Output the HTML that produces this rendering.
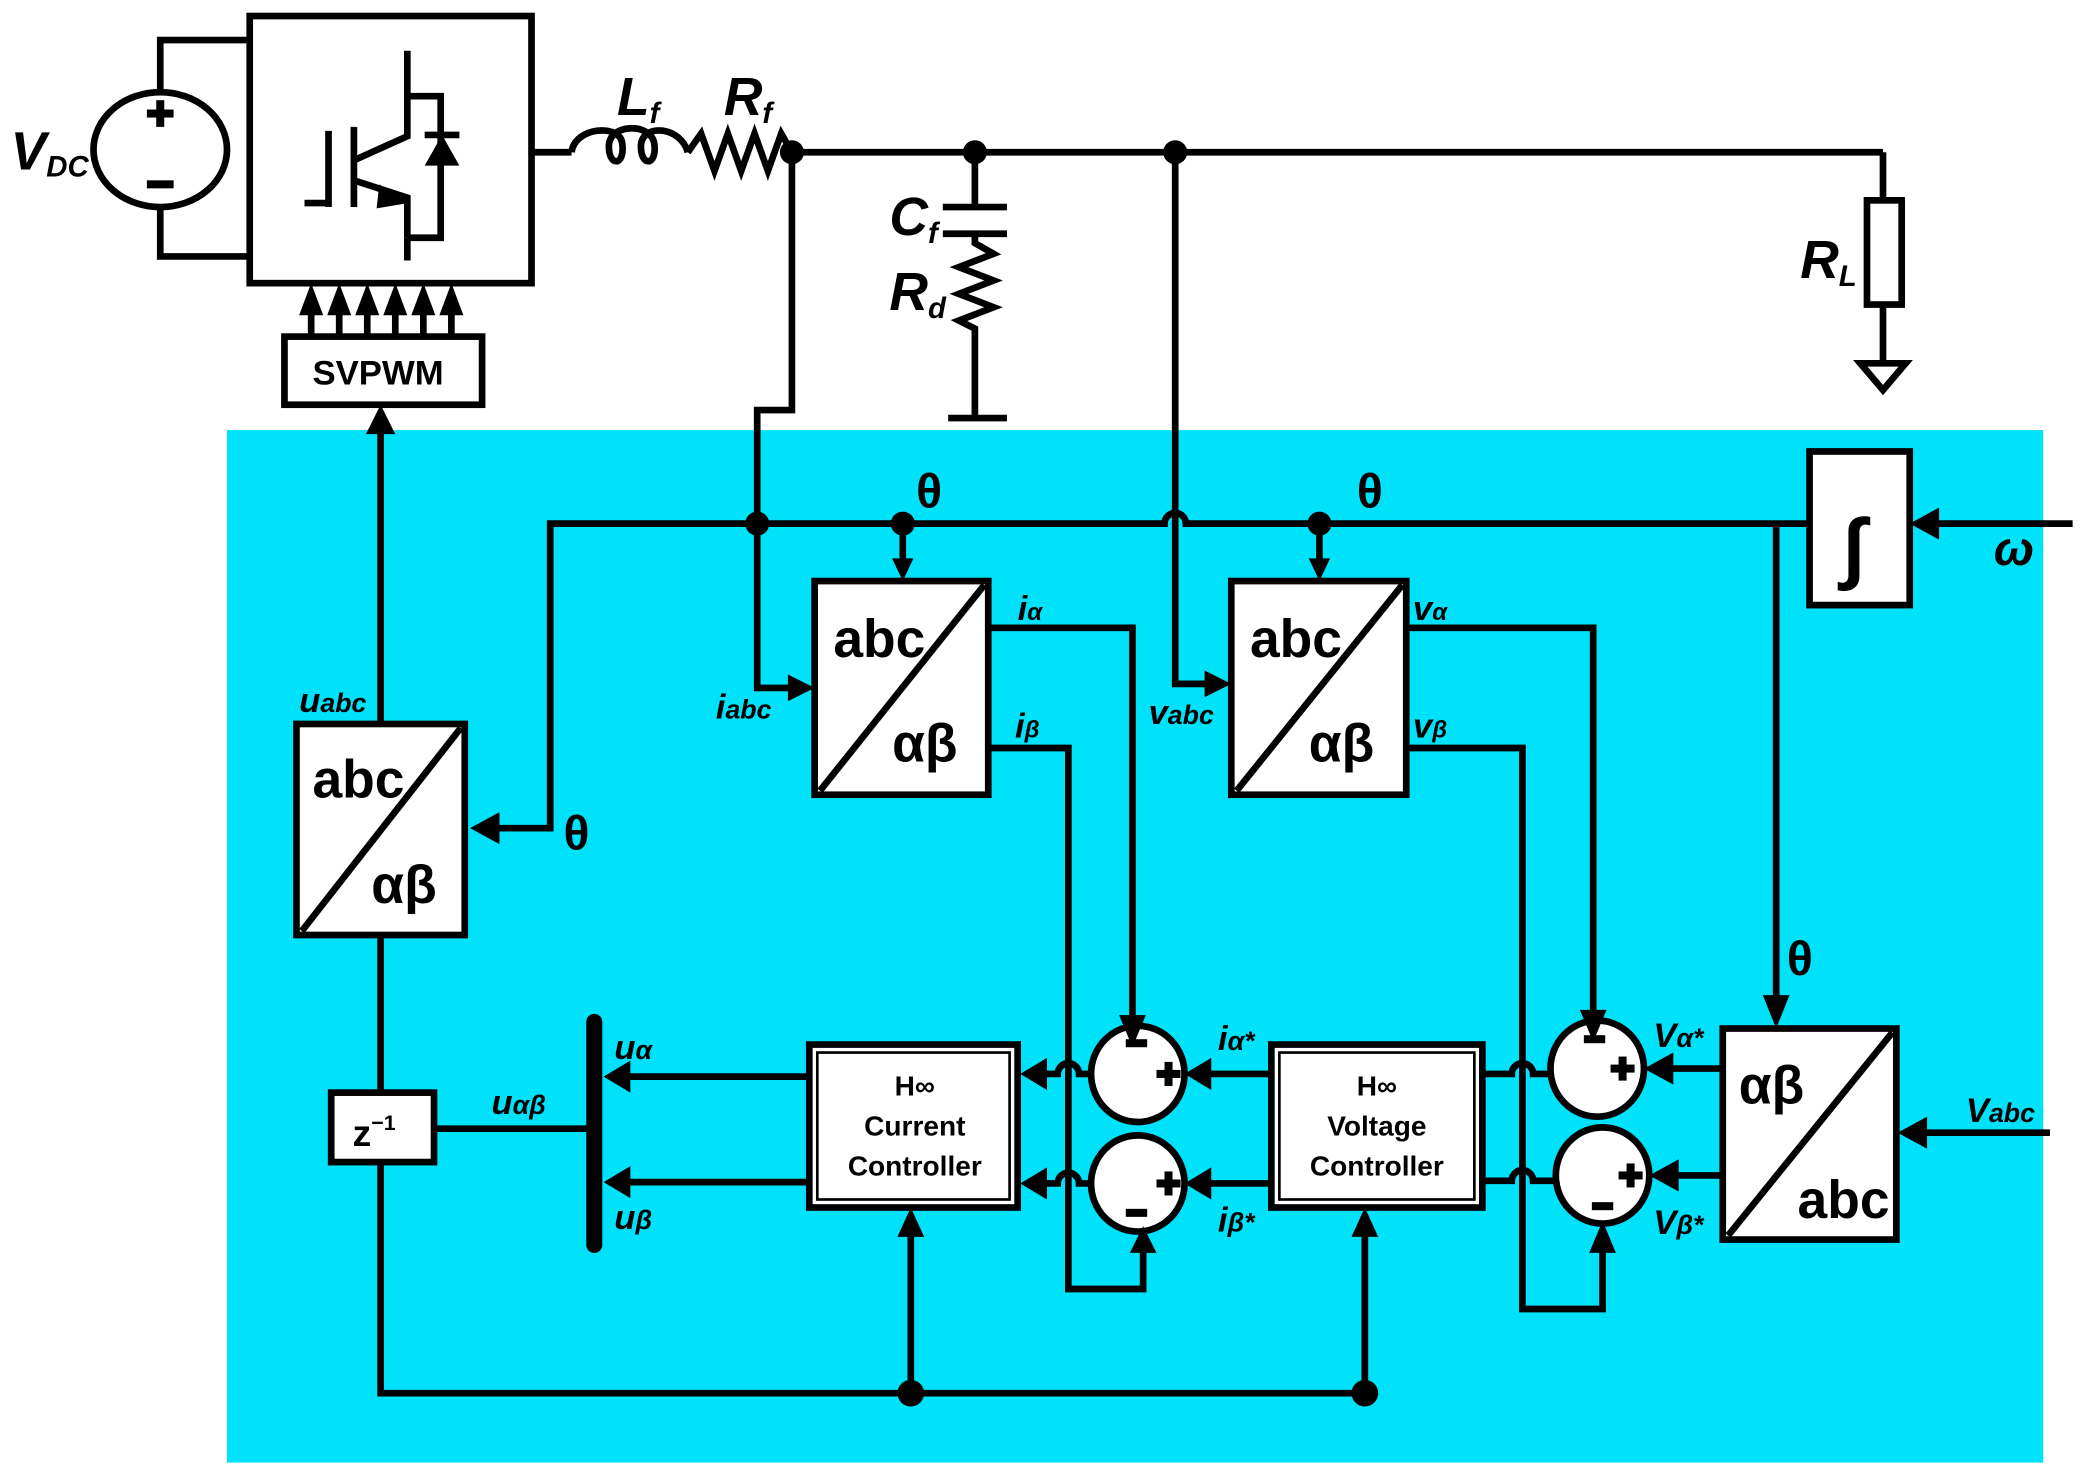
<!DOCTYPE html>
<html><head><meta charset="utf-8"><style>
html,body{margin:0;padding:0;background:#fff;}
svg{display:block;}
text{font-family:"Liberation Sans","DejaVu Sans",sans-serif;font-weight:bold;fill:#000;}
.i{font-style:italic;}
</style></head><body>
<svg width="2094" height="1484" viewBox="0 0 1568 1111" preserveAspectRatio="none" xmlns="http://www.w3.org/2000/svg">
<rect x="170" y="322" width="1360" height="773" fill="#00e1fa"/>
<g fill="none" stroke="#000" stroke-width="5" stroke-linejoin="miter">
<ellipse cx="120" cy="112" rx="50" ry="43"/>
<polyline points="120,69 120,30 187,30"/>
<polyline points="120,155 120,192 187,192"/>
<rect x="187" y="12" width="211" height="200" fill="#fff"/>
<line x1="228" y1="152" x2="245" y2="152"/>
<line x1="246" y1="98" x2="246" y2="155"/>
<line x1="265" y1="95" x2="265" y2="155"/>
<polyline points="265,120 305,102 305,38"/>
<polyline points="305,72 330,72 330,178 305,178"/>
<line x1="305" y1="178" x2="305" y2="195"/>
<polyline points="265,135 305,148 305,178"/>
<line x1="318" y1="101" x2="344" y2="101"/>
<line x1="398" y1="114" x2="428" y2="114"/>
<path d="M428,114 C430,95 465,92 466,108 C468,125 455,125 456,108 C458,92 488,92 490,108 C492,125 479,125 480,108 C482,92 510,95 515,114"/>
<polyline points="515,114 525,100 535,128 545,100 555,128 565,100 575,128 585,100 593,114"/>
<line x1="593" y1="114" x2="1410" y2="114"/>
<line x1="1410" y1="114" x2="1410" y2="150"/>
<rect x="1398" y="150" width="26" height="78" fill="#fff"/>
<line x1="1410" y1="228" x2="1410" y2="272"/>
<polygon points="1393,272 1427,272 1410,292"/>
<line x1="730" y1="114" x2="730" y2="155"/>
<line x1="706" y1="155" x2="754" y2="155"/>
<line x1="706" y1="175" x2="754" y2="175"/>
<polyline points="730,175 730,182 744,190 718,200 744,210 718,220 744,230 718,240 730,246 730,313"/>
<line x1="710" y1="313" x2="754" y2="313"/>
<rect x="213" y="252" width="148" height="51" fill="#fff"/>
<line x1="233" y1="252" x2="233" y2="225"/><line x1="254" y1="252" x2="254" y2="225"/>
<line x1="275" y1="252" x2="275" y2="225"/><line x1="296" y1="252" x2="296" y2="225"/>
<line x1="317" y1="252" x2="317" y2="225"/><line x1="338" y1="252" x2="338" y2="225"/>
<polyline points="593,114 593,307 567,307 567,515 598,515"/>
<path d="M880,114 L880,512 L910,512"/>
<path d="M1355,392 L888,392 A8,8 0 0 0 872,392 L412,392 L412,620 L368,620"/>
<line x1="676" y1="392" x2="676" y2="420"/>
<line x1="988" y1="392" x2="988" y2="420"/>
<polyline points="1330,392 1330,752"/>
<rect x="1355" y="338" width="75" height="115" fill="#fff"/>
<line x1="1552" y1="392" x2="1446" y2="392"/>
<rect x="610" y="435" width="130" height="160" fill="#fff"/>
<line x1="614" y1="592" x2="737" y2="438"/>
<rect x="922" y="435" width="131" height="160" fill="#fff"/>
<line x1="926" y1="592" x2="1050" y2="438"/>
<rect x="222" y="542" width="126" height="158" fill="#fff"/>
<line x1="226" y1="697" x2="345" y2="545"/>
<rect x="1290" y="770" width="130" height="158" fill="#fff"/>
<line x1="1294" y1="925" x2="1417" y2="773"/>
<polyline points="740,470 848,470 848,766"/>
<polyline points="740,560 800,560 800,965 856,965 856,930"/>
<polyline points="1053,470 1193,470 1193,762"/>
<polyline points="1053,560 1140,560 1140,980 1200,980 1200,930"/>
<ellipse cx="852" cy="804" rx="35" ry="36" fill="#fff"/>
<ellipse cx="852" cy="886" rx="35" ry="36" fill="#fff"/>
<ellipse cx="1196" cy="800" rx="35" ry="36" fill="#fff"/>
<ellipse cx="1200" cy="880" rx="35" ry="36" fill="#fff"/>
<rect x="606" y="782" width="156" height="122" fill="#fff"/>
<rect x="612" y="788" width="144" height="110" stroke-width="2"/>
<rect x="952" y="782" width="158" height="122" fill="#fff"/>
<rect x="958" y="788" width="146" height="110" stroke-width="2"/>
<path d="M817,804 L808,804 A8,8 0 0 0 792,804 L778,804"/>
<path d="M817,886 L808,886 A8,8 0 0 0 792,886 L778,886"/>
<line x1="952" y1="804" x2="902" y2="804"/>
<line x1="952" y1="886" x2="902" y2="886"/>
<path d="M1110,804 L1132,804 A8,8 0 0 1 1148,804 L1161,804"/>
<path d="M1110,884 L1132,884 A8,8 0 0 1 1148,884 L1165,884"/>
<line x1="1290" y1="800" x2="1246" y2="800"/>
<line x1="1290" y1="880" x2="1250" y2="880"/>
<line x1="1535" y1="848" x2="1436" y2="848"/>
<line x1="606" y1="806" x2="462" y2="806"/>
<line x1="606" y1="885" x2="462" y2="885"/>
<line x1="445" y1="765" x2="445" y2="932" stroke-width="12" stroke-linecap="round"/>
<rect x="248" y="818" width="77" height="52" fill="#fff"/>
<line x1="325" y1="845" x2="445" y2="845"/>
<line x1="285" y1="542" x2="285" y2="320"/>
<line x1="285" y1="700" x2="285" y2="818"/>
<polyline points="285,870 285,1043 1022,1043"/>
<line x1="682" y1="1043" x2="682" y2="920"/>
<line x1="1022" y1="1043" x2="1022" y2="920"/>
</g>
<g fill="#000">
<circle cx="593" cy="114" r="9"/><circle cx="730" cy="114" r="9"/><circle cx="880" cy="114" r="9"/>
<circle cx="567" cy="392" r="9"/><circle cx="676" cy="392" r="9"/><circle cx="988" cy="392" r="9"/>
<circle cx="682" cy="1043" r="10"/><circle cx="1022" cy="1043" r="10"/>
<polygon points="284,138 306,152 282,156"/>
<polygon points="318,124 344,124 331,101"/>
<polygon points="224,236 233,212 242,236"/><polygon points="245,236 254,212 263,236"/>
<polygon points="266,236 275,212 284,236"/><polygon points="287,236 296,212 305,236"/>
<polygon points="308,236 317,212 326,236"/><polygon points="329,236 338,212 347,236"/>
<polygon points="274,325 285,303 296,325"/>
<polygon points="590,505 610,515 590,525"/>
<polygon points="902,502 922,512 902,522"/>
<polygon points="668,418 676,435 684,418"/>
<polygon points="980,418 988,435 996,418"/>
<polygon points="374,608 352,620 374,632"/>
<polygon points="1452,380 1430,392 1452,404"/>
<polygon points="1320,745 1330,770 1340,745"/>
<polygon points="838,760 848,784 858,760"/>
<polygon points="1183,756 1193,780 1203,756"/>
<polygon points="846,938 856,918 866,938"/>
<polygon points="1190,938 1200,914 1210,938"/>
<polygon points="784,792 764,804 784,816"/>
<polygon points="784,874 764,886 784,898"/>
<polygon points="907,792 887,804 907,816"/>
<polygon points="907,874 887,886 907,898"/>
<polygon points="1253,788 1231,800 1253,812"/>
<polygon points="1257,868 1235,880 1257,892"/>
<polygon points="1443,836 1421,848 1443,860"/>
<polygon points="472,794 452,806 472,818"/>
<polygon points="472,873 452,885 472,897"/>
<polygon points="672,926 682,904 692,926"/>
<polygon points="1012,926 1022,904 1032,926"/>
<rect x="843" y="778" width="16" height="6"/><rect x="866" y="801" width="18" height="6"/><rect x="872" y="795" width="6" height="18"/>
<rect x="843" y="905" width="16" height="6"/><rect x="866" y="883" width="18" height="6"/><rect x="872" y="877" width="6" height="18"/>
<rect x="1186" y="775" width="16" height="6"/><rect x="1206" y="797" width="18" height="6"/><rect x="1212" y="791" width="6" height="18"/>
<rect x="1192" y="900" width="16" height="6"/><rect x="1212" y="877" width="18" height="6"/><rect x="1218" y="871" width="6" height="18"/>
<rect x="110" y="82" width="20" height="6"/><rect x="117" y="75" width="6" height="20"/><rect x="110" y="135" width="20" height="6"/>
</g>
<g font-size="40">
<text x="8" y="127" class="i">V<tspan font-size="22" dy="5">DC</tspan></text>
<text x="462" y="86" class="i">L<tspan font-size="22" dy="6">f</tspan></text>
<text x="542" y="86" class="i">R<tspan font-size="22" dy="6">f</tspan></text>
<text x="666" y="176" class="i">C<tspan font-size="22" dy="6">f</tspan></text>
<text x="666" y="232" class="i">R<tspan font-size="22" dy="6">d</tspan></text>
<text x="1348" y="208" class="i">R<tspan font-size="22" dy="6">L</tspan></text>
</g>
<text x="234" y="288" font-size="26">SVPWM</text>
<g font-size="36">
<text x="686" y="380">θ</text><text x="1016" y="380">θ</text>
<text x="422" y="636">θ</text><text x="1338" y="730">θ</text>
<text x="1493" y="423" class="i">ω</text>
</g>
<text x="1380" y="430" font-size="60" font-weight="normal" font-family="Liberation Serif,serif" font-style="italic">∫</text>
<g font-size="40">
<text x="624" y="492">abc</text><text x="668" y="570">αβ</text>
<text x="936" y="492">abc</text><text x="980" y="570">αβ</text>
<text x="234" y="597">abc</text><text x="278" y="676">αβ</text>
<text x="1302" y="826">αβ</text><text x="1346" y="912">abc</text>
</g>
<g font-size="26" class="i">
<text x="762" y="464" class="i">i<tspan font-size="18">α</tspan></text>
<text x="760" y="552" class="i">i<tspan font-size="18">β</tspan></text>
<text x="1058" y="464" class="i">v<tspan font-size="18">α</tspan></text>
<text x="1058" y="552" class="i">v<tspan font-size="18">β</tspan></text>
<text x="536" y="538" class="i">i<tspan font-size="20">abc</tspan></text>
<text x="860" y="542" class="i">v<tspan font-size="20">abc</tspan></text>
<text x="224" y="533" class="i">u<tspan font-size="20">abc</tspan></text>
<text x="460" y="793" class="i">u<tspan font-size="20">α</tspan></text>
<text x="460" y="920" class="i">u<tspan font-size="20">β</tspan></text>
<text x="368" y="834" class="i">u<tspan font-size="20">αβ</tspan></text>
<text x="912" y="786" class="i">i<tspan font-size="20">α*</tspan></text>
<text x="912" y="922" class="i">i<tspan font-size="20">β*</tspan></text>
<text x="1238" y="784" class="i">V<tspan font-size="20">α*</tspan></text>
<text x="1238" y="924" class="i">V<tspan font-size="20">β*</tspan></text>
<text x="1472" y="840" class="i">V<tspan font-size="20">abc</tspan></text>
</g>
<g font-size="21" text-anchor="middle" font-weight="normal">
<text x="685" y="820">H∞</text><text x="685" y="850">Current</text><text x="685" y="880">Controller</text>
<text x="1031" y="820">H∞</text><text x="1031" y="850">Voltage</text><text x="1031" y="880">Controller</text>
</g>
<text x="264" y="858" font-size="28" font-family="Liberation Serif,serif">z<tspan font-size="16" dy="-12">−1</tspan></text>
</svg>
</body></html>
